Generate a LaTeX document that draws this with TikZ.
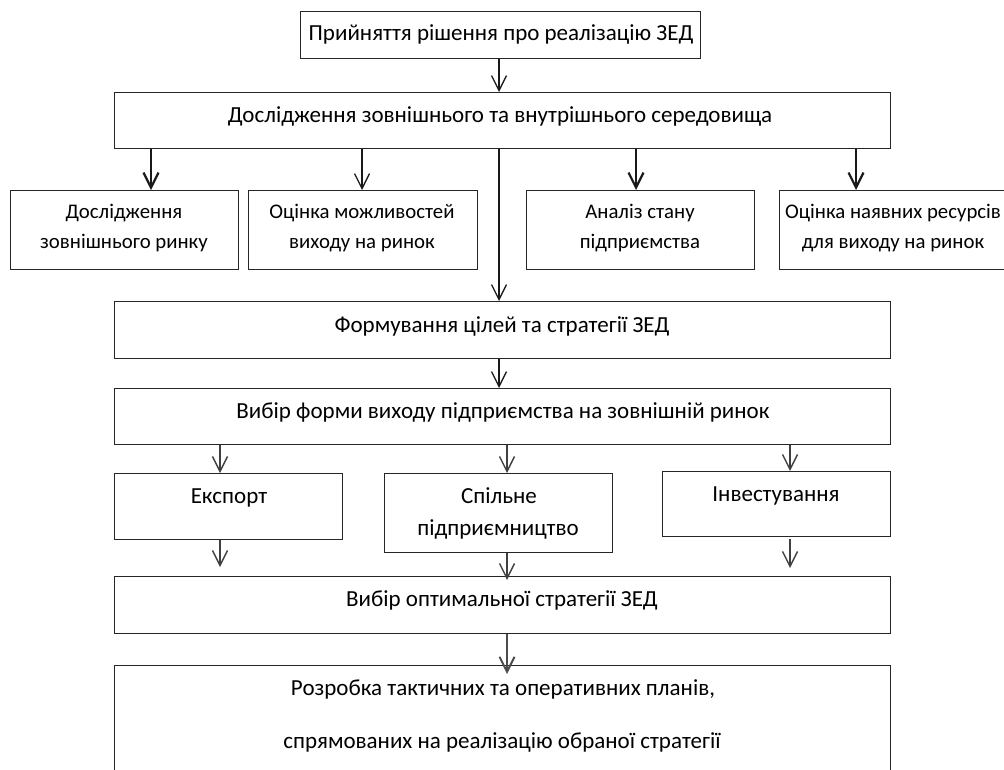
\documentclass[tikz,border=0pt]{standalone}
\usepackage{fontspec}
\setmainfont{Carlito}
\usetikzlibrary{arrows.meta}
\tikzset{
  box/.style={draw=black!85, line width=1.3pt, inner sep=0pt, anchor=north west},
  txt/.style={anchor=base, inner sep=0pt, font=\fontsize{23}{28}\selectfont},
  smalltxt/.style={anchor=base, inner sep=0pt, font=\fontsize{20.8}{25}\selectfont},
  thinarr/.style={draw=black!90, line width=1.3pt, -{Straight Barb[length=15pt,width=15pt,line width=1.3pt]}},
  thickarr/.style={draw=black!90, line width=2.6pt, -{Straight Barb[length=15pt,width=15pt,line width=2.2pt]}},
  grayarr/.style={draw=black!75, line width=1.6pt, -{Straight Barb[length=15pt,width=15pt,line width=1.4pt]}},
  grayarrthick/.style={draw=black!70, line width=2.6pt, -{Straight Barb[length=15pt,width=15pt,line width=2pt]}},
}
\begin{document}
\begin{tikzpicture}[x=1pt,y=-1pt]
\useasboundingbox (0,0) rectangle (1004,769);
% boxes
\node[box, minimum width=400pt, minimum height=47pt] (top) at (300,11) {};
\node[box, minimum width=776pt, minimum height=56pt] (dosl) at (114,92) {};
\node[box, minimum width=228pt, minimum height=79pt] (b1) at (10,190) {};
\node[box, minimum width=229pt, minimum height=79pt] (b2) at (248,190) {};
\node[box, minimum width=228pt, minimum height=79pt] (b3) at (526,190) {};
\node[box, minimum width=232pt, minimum height=79pt] (b4) at (779,190) {};
\node[box, minimum width=776pt, minimum height=57pt] (form) at (114,301) {};
\node[box, minimum width=776pt, minimum height=56pt] (vyb) at (114,388) {};
\node[box, minimum width=228pt, minimum height=66pt] (eks) at (114,473) {};
\node[box, minimum width=228pt, minimum height=79pt] (spil) at (384,473) {};
\node[box, minimum width=228pt, minimum height=65pt] (inv) at (662,471) {};
\node[box, minimum width=776pt, minimum height=57pt] (opt) at (114,576) {};
\node[box, minimum width=776pt, minimum height=120pt] (rozr) at (114,665) {};
% texts
\node[txt] (ttop) at (501,40) {Прийняття рішення про реалізацію ЗЕД};
\node[txt] (tdosl) at (500,122) {Дослідження зовнішнього та внутрішнього середовища};
\node[smalltxt] (tb1a) at (124,218) {Дослідження};
\node[smalltxt] (tb1b) at (124,248) {зовнішнього ринку};
\node[smalltxt] (tb2a) at (362,218) {Оцінка можливостей};
\node[smalltxt] (tb2b) at (362,248) {виходу на ринок};
\node[smalltxt] (tb3a) at (640,218) {Аналіз стану};
\node[smalltxt] (tb3b) at (640,248) {підприємства};
\node[smalltxt] (tb4a) at (893,218) {Оцінка наявних ресурсів};
\node[smalltxt] (tb4b) at (893,248) {для виходу на ринок};
\node[txt] (tform) at (502,332) {Формування цілей та стратегії ЗЕД};
\node[txt] (tvyb) at (503,418) {Вибір форми виходу підприємства на зовнішній ринок};
\node[txt] (teks) at (229,503) {Експорт};
\node[txt] (tspa) at (499,503) {Спільне};
\node[txt] (tspb) at (498,535) {підприємництво};
\node[txt] (tinv) at (776,501) {Інвестування};
\node[txt] (topt) at (502,606) {Вибір оптимальної стратегії ЗЕД};
\node[txt] (troza) at (503,695) {Розробка тактичних та оперативних планів,};
\node[txt] (trozb) at (502,748) {спрямованих на реалізацію обраної стратегії};
% connector x positions
\coordinate (x1) at (151,0);
\coordinate (x2) at (362,0);
\coordinate (x3) at (636,0);
\coordinate (x4) at (856,0);
\coordinate (xm) at (499,0);
\coordinate (xe) at (220,0);
\coordinate (xs) at (507,0);
\coordinate (xi) at (790,0);
\coordinate (eeks) at (220,567);
\coordinate (espil) at (507,580);
\coordinate (sinv) at (790,539);
\coordinate (einv) at (790,568);
\coordinate (eroz) at (507,674);
% arrows
\draw[thinarr] (top.south -| xm) -- (dosl.north -| xm);
\draw[thickarr] (dosl.south -| x1) -- (b1.north -| x1);
\draw[thinarr] (dosl.south -| x2) -- (b2.north -| x2);
\draw[thickarr] (dosl.south -| x3) -- (b3.north -| x3);
\draw[thickarr] (dosl.south -| x4) -- (b4.north -| x4);
\draw[thinarr] (dosl.south -| xm) -- (form.north -| xm);
\draw[thinarr] (form.south -| xm) -- (vyb.north -| xm);
\draw[grayarr] (vyb.south -| xe) -- (eks.north -| xe);
\draw[grayarr] (vyb.south -| xs) -- (spil.north -| xs);
\draw[grayarr] (vyb.south -| xi) -- (inv.north -| xi);
\draw[grayarr] (eks.south -| xe) -- (eeks);
\draw[grayarr] (spil.south -| xs) -- (espil);
\draw[grayarr] (sinv) -- (einv);
\draw[grayarrthick] (opt.south -| xs) -- (eroz);
\end{tikzpicture}
\end{document}
